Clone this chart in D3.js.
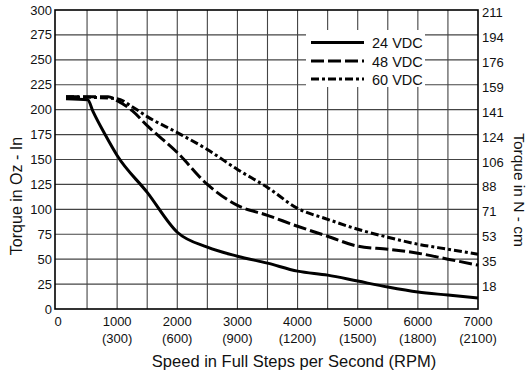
<!DOCTYPE html>
<html>
<head>
<meta charset="utf-8">
<script src="https://cdn.jsdelivr.net/npm/d3@7"></script>
<style>
  html, body { margin: 0; padding: 0; background: #fff; overflow: hidden; }
  text { font-family: "Liberation Sans", Arial, sans-serif; fill: #111; }
</style>
</head>
<body>
<svg id="chart" width="527" height="372"></svg>
<script>
// speed in full steps per second, torque in oz-in
const speed24 = [150, 510, 600, 800, 1000, 1500, 2000, 2500, 3000, 3500, 4000, 4500, 5000, 5500, 6000, 6500, 7000];
const torque24 = [211, 210, 198, 175, 154, 117, 77, 62, 53, 46, 38, 34, 28, 22, 17, 14, 11];

const speed48 = [150, 850, 1000, 1250, 1500, 2000, 2500, 3000, 3500, 4000, 4500, 5000, 5500, 6000, 6500, 7000];
const torque48 = [213, 213, 209, 199, 184, 157, 125, 104, 94, 83, 73, 63, 60, 56, 50, 44];

const speed60 = [150, 1000, 1250, 1500, 2000, 2500, 3000, 3500, 4000, 4500, 5000, 5500, 6000, 6500, 7000];
const torque60 = [213, 211, 203, 193, 177, 160, 140, 122, 101, 90, 80, 72, 65, 60, 55];

const seriesNames = ["24 VDC", "48 VDC", "60 VDC"];
const leftTicks = [0, 25, 50, 75, 100, 125, 150, 175, 200, 225, 250, 275, 300];
const rightTickLabels = ["", "18", "35", "53", "71", "88", "106", "124", "141", "159", "176", "194", "211"];
const xTicks = [0, 1000, 2000, 3000, 4000, 5000, 6000, 7000];
const rpmLabels = ["", "(300)", "(600)", "(900)", "(1200)", "(1500)", "(1800)", "(2100)"];

const svg = d3.select("#chart");
const plotL = 55, plotR = 478, plotT = 10, plotB = 309;

const x = d3.scaleLinear().domain([-33, 7000]).range([plotL, plotR]);
const y = d3.scaleLinear().domain([0, 300]).range([plotB, plotT]);

// grid
const grid = svg.append("g");
grid.selectAll("line.v")
  .data(d3.range(500, 7000, 500))
  .join("line")
  .attr("class", "v")
  .attr("x1", (d) => x(d)).attr("x2", (d) => x(d))
  .attr("y1", plotT).attr("y2", plotB)
  .attr("stroke", "#444").attr("stroke-width", 1.1);
grid.selectAll("line.h")
  .data(d3.range(25, 300, 25))
  .join("line")
  .attr("class", "h")
  .attr("x1", plotL).attr("x2", plotR)
  .attr("y1", (d) => y(d)).attr("y2", (d) => y(d))
  .attr("stroke", "#444").attr("stroke-width", 1.1);

// legend background hides the grid
svg.append("rect")
  .attr("x", 306).attr("y", 30).attr("width", 119).attr("height", 57)
  .attr("fill", "#fff");

// frame
svg.append("rect")
  .attr("x", plotL).attr("y", plotT)
  .attr("width", plotR - plotL).attr("height", plotB - plotT)
  .attr("fill", "none").attr("stroke", "#000").attr("stroke-width", 1.6);

// axes labels
svg.append("g").selectAll("text")
  .data(leftTicks)
  .join("text")
  .attr("x", 52).attr("y", (d) => y(d) + 4.5)
  .attr("text-anchor", "end").attr("font-size", 13)
  .text((d) => d);

svg.append("g").selectAll("text")
  .data(leftTicks)
  .join("text")
  .attr("x", 482).attr("y", (d) => y(d) + 7)
  .attr("font-size", 13)
  .text((d, i) => rightTickLabels[i]);

const xl = svg.append("g").selectAll("g")
  .data(xTicks)
  .join("g")
  .attr("transform", (d) => `translate(${d === 0 ? x(0) + 1 : x(d)},0)`);
xl.append("text")
  .attr("y", 326).attr("text-anchor", "middle").attr("font-size", 13)
  .text((d) => d);
xl.append("text")
  .attr("y", 343).attr("text-anchor", "middle").attr("font-size", 13)
  .text((d, i) => rpmLabels[i]);

svg.append("text")
  .attr("x", 294).attr("y", 367)
  .attr("text-anchor", "middle").attr("font-size", 16.5)
  .text("Speed in Full Steps per Second (RPM)");

svg.append("text")
  .attr("transform", "translate(22,196) rotate(-90)")
  .attr("text-anchor", "middle").attr("font-size", 16)
  .text("Torque in Oz - In");

svg.append("text")
  .attr("transform", "translate(514,190) rotate(90)")
  .attr("text-anchor", "middle").attr("font-size", 15.5)
  .text("Torque in N - cm");

// curves
const line = d3.line()
  .x((d) => x(d[0]))
  .y((d) => y(d[1]))
  .curve(d3.curveMonotoneX);

const dashes = [null, "13,4", "8,3,3,3"];
const series = [
  d3.zip(speed24, torque24),
  d3.zip(speed48, torque48),
  d3.zip(speed60, torque60),
];

svg.append("g").selectAll("path")
  .data(series)
  .join("path")
  .attr("fill", "none")
  .attr("stroke", "#000")
  .attr("stroke-width", 3)
  .attr("stroke-dasharray", (d, i) => dashes[i])
  .attr("d", line);

// legend
const lg = svg.append("g").selectAll("g")
  .data(seriesNames)
  .join("g")
  .attr("transform", (d, i) => `translate(0,${[42.5, 61, 79][i]})`);
lg.append("line")
  .attr("x1", 311).attr("x2", 364)
  .attr("stroke", "#000").attr("stroke-width", 3)
  .attr("stroke-dasharray", (d, i) => dashes[i]);
lg.append("text")
  .attr("x", 372).attr("y", 5.5).attr("font-size", 14.5)
  .text((d) => d);
</script>
</body>
</html>
